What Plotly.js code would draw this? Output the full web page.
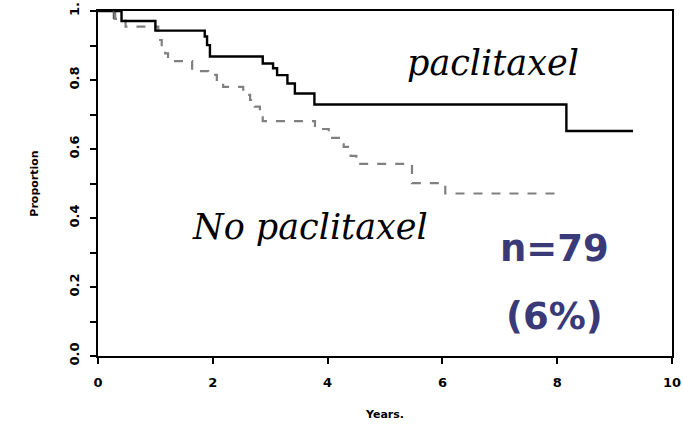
<!DOCTYPE html>
<html>
<head>
<meta charset="utf-8">
<script src="https://cdn.plot.ly/plotly-3.0.1.min.js"></script>
<style>html,body{margin:0;padding:0;background:#fff;}#chart{width:683px;height:428px;}</style>
</head>
<body>
<div id="chart"></div>
<script>
// Kaplan-Meier style step curves (years, proportion)
const paclitaxelYears = [0, 0.41, 1.0, 1.86, 1.90, 1.95, 2.87, 3.05, 3.12, 3.30, 3.43, 3.77, 8.16, 9.32];
const paclitaxelProp  = [1.0, 0.971, 0.943, 0.926, 0.901, 0.868, 0.848, 0.834, 0.814, 0.790, 0.761, 0.729, 0.652, 0.652];

const noPaclitaxelYears = [0, 0.30, 0.48, 1.05, 1.11, 1.17, 1.22, 1.64, 1.92, 2.07, 2.18, 2.53, 2.65, 2.73, 2.82, 2.87, 3.78, 4.02, 4.28, 4.40, 4.50, 5.47, 6.05, 8.10];
const noPaclitaxelProp  = [1.0, 0.977, 0.955, 0.916, 0.897, 0.877, 0.855, 0.826, 0.815, 0.800, 0.780, 0.757, 0.742, 0.723, 0.703, 0.681, 0.658, 0.632, 0.606, 0.580, 0.557, 0.501, 0.471, 0.471];

const censorYears = [0.27];
const censorProp  = [0.99];

const xTickVals = [0, 2, 4, 6, 8, 10];
const xTickText = ["0", "2", "4", "6", "8", "10"];
const yTickVals = [0, 0.1, 0.2, 0.3, 0.4, 0.5, 0.6, 0.7, 0.8, 0.9, 1.0];
const yTickText = ["0.0", "", "0.2", "", "0.4", "", "0.6", "", "0.8", "", "1."];

const labelPaclitaxel = "paclitaxel";
const labelNoPaclitaxel = "No paclitaxel";
const labelN = "n=79";
const labelPct = "(6%)";

const traces = [
  {x: noPaclitaxelYears, y: noPaclitaxelProp, type: "scatter", mode: "lines",
   line: {shape: "hv", color: "#808080", width: 2.2, dash: "dash"}, hoverinfo: "skip"},
  {x: paclitaxelYears, y: paclitaxelProp, type: "scatter", mode: "lines",
   line: {shape: "hv", color: "#000000", width: 2.4}, hoverinfo: "skip"},
  {x: censorYears, y: censorProp, type: "scatter", mode: "markers",
   marker: {symbol: "line-ns", size: 7, line: {color: "#555", width: 1.5}}, hoverinfo: "skip"}
];

const tickFont = {family: "DejaVu Sans", size: 13, color: "#000", weight: "bold"};

const layout = {
  width: 683, height: 428,
  margin: {l: 98, r: 11, t: 11, b: 72},
  paper_bgcolor: "#fff", plot_bgcolor: "#fff",
  showlegend: false,
  xaxis: {
    range: [0, 10], tickvals: xTickVals, ticktext: xTickText,
    showgrid: false, zeroline: false,
    showline: true, linecolor: "#000", linewidth: 2, mirror: true,
    ticks: "outside", ticklen: 6, tickwidth: 2, tickcolor: "#000",
    tickfont: tickFont, ticklabelstandoff: 7,
    title: {text: "Years.", font: {family: "DejaVu Sans", size: 11, color: "#000", weight: "bold"}, standoff: 22}
  },
  yaxis: {
    range: [0, 1], tickvals: yTickVals, ticktext: yTickText, tickangle: -90,
    showgrid: false, zeroline: false,
    showline: true, linecolor: "#000", linewidth: 2, mirror: true,
    ticks: "outside", ticklen: 6, tickwidth: 2, tickcolor: "#000",
    tickfont: tickFont, ticklabelstandoff: 6,
    title: {text: "Proportion", font: {family: "DejaVu Sans", size: 11, color: "#000", weight: "bold"}, standoff: 26}
  },
  annotations: [
    {x: 6.88, y: 0.85, xref: "x", yref: "y", text: labelPaclitaxel, showarrow: false,
     font: {family: "DejaVu Serif", size: 35, color: "#000", style: "italic"}},
    {x: 3.69, y: 0.374, xref: "x", yref: "y", text: labelNoPaclitaxel, showarrow: false,
     font: {family: "DejaVu Serif", size: 35, color: "#000", style: "italic"}},
    {x: 7.96, y: 0.313, xref: "x", yref: "y", text: labelN, showarrow: false,
     font: {family: "DejaVu Sans", size: 37, color: "#3a3a78", weight: "bold"}},
    {x: 7.96, y: 0.115, xref: "x", yref: "y", text: labelPct, showarrow: false,
     font: {family: "DejaVu Sans", size: 37, color: "#3a3a78", weight: "bold"}}
  ]
};

Plotly.newPlot("chart", traces, layout, {staticPlot: true, displayModeBar: false});
</script>
</body>
</html>
